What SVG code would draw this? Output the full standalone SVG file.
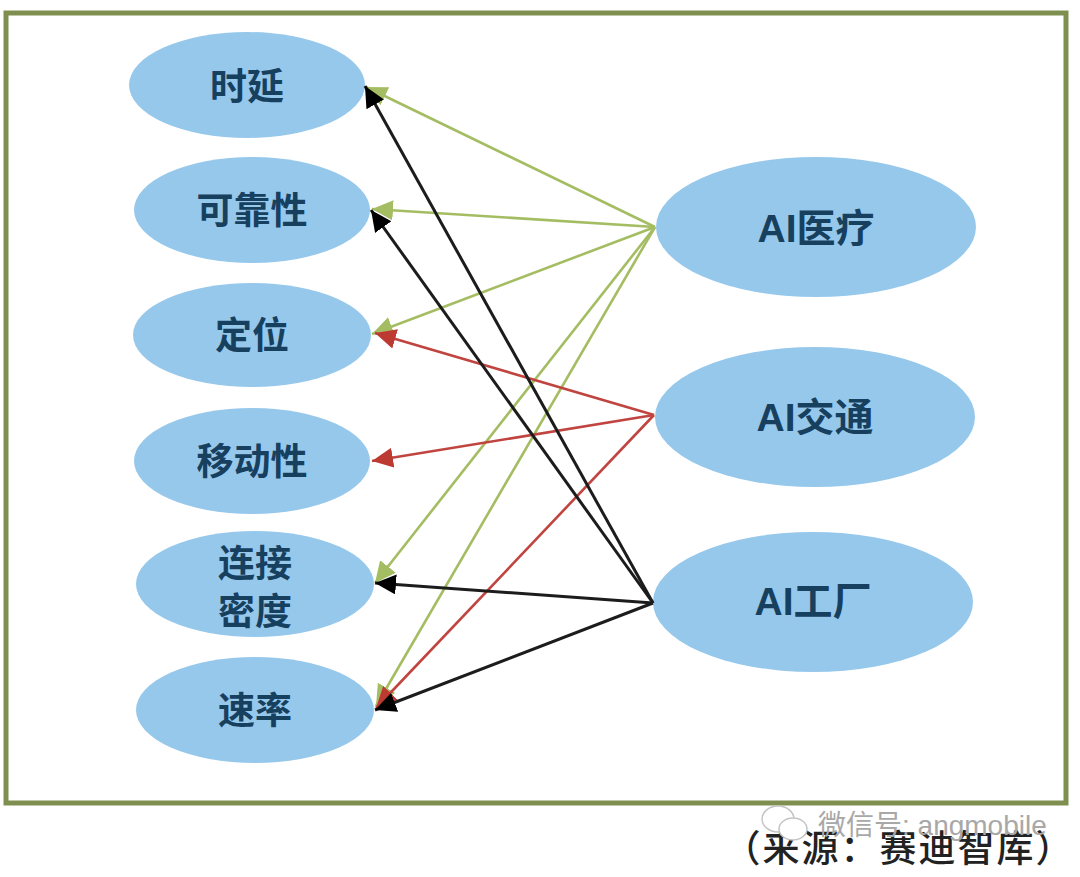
<svg xmlns="http://www.w3.org/2000/svg" width="1080" height="877" viewBox="0 0 1080 877">
<style>
.n{fill:#96c8ec}
.t{font-family:"Liberation Sans","Noto Sans CJK SC",sans-serif;font-weight:700;font-size:37px;fill:#17405f;text-anchor:middle}
.b{font-size:39px}
.c{fill:none}
.g{stroke:#a5bd62;stroke-width:2.6}
.r{stroke:#c0443f;stroke-width:2.6}
.k{stroke:#1c1c1c;stroke-width:3}
</style>
<defs>
<marker id="ag" markerUnits="userSpaceOnUse" markerWidth="24" markerHeight="22" refX="21" refY="10" orient="auto"><path d="M0 0L21 10L0 20Z" fill="#a5bd62"/></marker>
<marker id="ar" markerUnits="userSpaceOnUse" markerWidth="24" markerHeight="22" refX="21" refY="10" orient="auto"><path d="M0 0L21 10L0 20Z" fill="#bd3a33"/></marker>
<marker id="ak" markerUnits="userSpaceOnUse" markerWidth="24" markerHeight="22" refX="21" refY="10" orient="auto"><path d="M0 0L21 10L0 20Z" fill="#000"/></marker>
</defs>
<rect width="1080" height="877" fill="#fff"/>
<rect x="6" y="13" width="1060" height="790" fill="#fff" stroke="#7f8f50" stroke-width="5"/>
<g id="node-latency"><ellipse class="n" cx="247" cy="85" rx="118" ry="53"/><text class="t" x="247" y="100">时延</text></g>
<g id="node-reliability"><ellipse class="n" cx="252" cy="210" rx="118" ry="53"/><text class="t" x="252" y="224">可靠性</text></g>
<g id="node-positioning"><ellipse class="n" cx="252" cy="335" rx="119" ry="52"/><text class="t" x="252" y="349">定位</text></g>
<g id="node-mobility"><ellipse class="n" cx="252" cy="461" rx="118" ry="53"/><text class="t" x="252" y="475">移动性</text></g>
<g id="node-density"><ellipse class="n" cx="255" cy="584" rx="119" ry="53"/><text class="t" x="255" y="577">连接</text><text class="t" x="255" y="625">密度</text></g>
<g id="node-rate"><ellipse class="n" cx="255" cy="710" rx="119" ry="53"/><text class="t" x="255" y="724">速率</text></g>
<g id="node-medical"><ellipse class="n" cx="816" cy="227" rx="160" ry="70"/><text class="t b" x="816" y="242">AI医疗</text></g>
<g id="node-traffic"><ellipse class="n" cx="815" cy="417" rx="160" ry="70"/><text class="t b" x="815" y="431">AI交通</text></g>
<g id="node-factory"><ellipse class="n" cx="813" cy="602" rx="160" ry="70"/><text class="t b" x="813" y="615">AI工厂</text></g>
<g id="connectors" class="c">
<path class="g" marker-end="url(#ag)" d="M655 227L366 87"/>
<path class="g" marker-end="url(#ag)" d="M655 227L372 209"/>
<path class="g" marker-end="url(#ag)" d="M655 227L372 334"/>
<path class="g" marker-end="url(#ag)" d="M655 227L375 583"/>
<path class="g" marker-end="url(#ag)" d="M655 227L376 706"/>
<path class="r" marker-end="url(#ar)" d="M654 415L375 333"/>
<path class="r" marker-end="url(#ar)" d="M654 415L372 461"/>
<path class="r" marker-end="url(#ar)" d="M654 415L376 708"/>
<path class="k" marker-end="url(#ak)" d="M653 603L365 86"/>
<path class="k" marker-end="url(#ak)" d="M653 603L371 210"/>
<path class="k" marker-end="url(#ak)" d="M653 603L375 583"/>
<path class="k" marker-end="url(#ak)" d="M653 603L375 710"/>
</g>
<text x="899" y="862" font-family="'Liberation Sans','Noto Sans CJK SC',sans-serif" font-size="37" font-weight="500" fill="#222" text-anchor="middle" letter-spacing="2">（来源：赛迪智库）</text>
<g id="watermark">
<ellipse cx="778" cy="819" rx="16" ry="13" fill="#fff" stroke="#c4c4c4" stroke-width="1.5"/>
<ellipse cx="793" cy="829" rx="14" ry="11" fill="#fff" stroke="#c4c4c4" stroke-width="1.5"/>
<text x="818" y="835" font-family="'Liberation Sans','Noto Sans CJK SC',sans-serif" font-size="28" fill="#a8a8a8">微信号: angmobile</text>
</g>
</svg>
